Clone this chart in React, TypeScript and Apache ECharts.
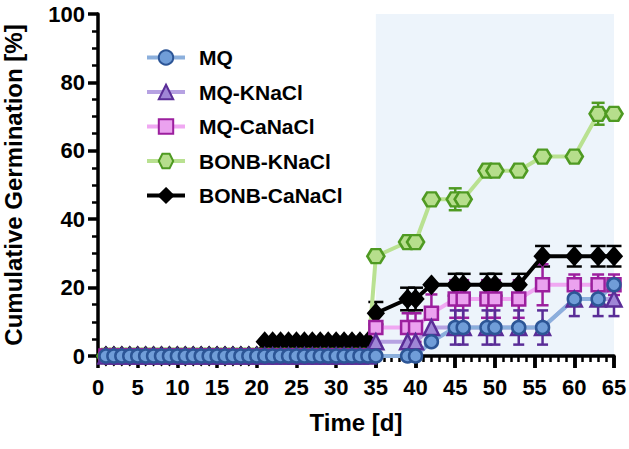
import React, { useEffect, useRef } from "react";
import * as echarts from "echarts";

// ---- data ----
const days = [
  1, 2, 3, 4, 5, 6, 7, 8, 9, 10, 11, 12, 13, 14, 15, 16, 17, 18, 19, 20,
  21, 22, 23, 24, 25, 26, 27, 28, 29, 30, 31, 32, 33, 34, 35,
  39, 40, 42, 45, 46, 49, 50, 53, 56, 60, 63, 65,
];

const valMQ = [
  0, 0, 0, 0, 0, 0, 0, 0, 0, 0, 0, 0, 0, 0, 0, 0, 0, 0, 0, 0,
  0, 0, 0, 0, 0, 0, 0, 0, 0, 0, 0, 0, 0, 0, 0,
  0, 0, 4.17, 8.33, 8.33, 8.33, 8.33, 8.33, 8.33, 16.67, 16.67, 20.83,
];
const valMQK = [
  0, 0, 0, 0, 0, 0, 0, 0, 0, 0, 0, 0, 0, 0, 0, 0, 0, 0, 0, 0,
  0, 0, 0, 0, 0, 0, 0, 0, 0, 0, 0, 0, 0, 0, 4.17,
  4.17, 4.17, 8.33, 8.33, 8.33, 8.33, 8.33, 8.33, 8.33, 16.67, 16.67, 16.67,
];
const valMQCa = [
  0, 0, 0, 0, 0, 0, 0, 0, 0, 0, 0, 0, 0, 0, 0, 0, 0, 0, 0, 0,
  0, 0, 0, 0, 0, 0, 0, 0, 0, 0, 0, 0, 0, 0, 8.33,
  8.33, 8.33, 12.5, 16.67, 16.67, 16.67, 16.67, 16.67, 20.83, 20.83, 20.83, 20.83,
];
const valBONBK = [
  0, 0, 0, 0, 0, 0, 0, 0, 0, 0, 0, 0, 0, 0, 0, 0, 0, 0, 0, 0,
  0, 0, 0, 0, 0, 0, 0, 0, 0, 0, 0, 0, 0, 0, 29.17,
  33.33, 33.33, 45.83, 45.83, 45.83, 54.17, 54.17, 54.17, 58.33, 58.33, 70.83, 70.83,
];
const valBONBCa = [
  0, 0, 0, 0, 0, 0, 0, 0, 0, 0, 0, 0, 0, 0, 0, 0, 0, 0, 0, 0,
  4.17, 4.17, 4.17, 4.17, 4.17, 4.17, 4.17, 4.17, 4.17, 4.17, 4.17, 4.17, 4.17, 4.17, 12.5,
  16.67, 16.67, 20.83, 20.83, 20.83, 20.83, 20.83, 20.83, 29.17, 29.17, 29.17, 29.17,
];

// error bars (SEM) for the later time points
const lateDays = [35, 39, 40, 42, 45, 46, 49, 50, 53, 56, 60, 63, 65];
const errMQ = [0, 0, 0, 0, 0, 0, 0, 0, 0, 0, 0, 0, 0];
const errMQK = [0, 0, 0, 4, 5, 5, 5, 5, 5, 5, 5, 5, 5];
const errMQCa = [0, 4.17, 4.17, 5.5, 5.5, 5.5, 5.5, 5.5, 5.5, 6, 3, 3, 3];
const errBONBK = [0, 0, 0, 0, 3.2, 0, 0, 0, 0, 0, 0, 3.2, 0];
const errBONBCa = [3.3, 3.3, 3.3, 0, 3.2, 3.2, 3.2, 3.2, 3.2, 3, 3, 3, 3];

const seriesNames = ["MQ", "MQ-KNaCl", "MQ-CaNaCl", "BONB-KNaCl", "BONB-CaNaCl"];
const xRange = [0, 65];
const yRange = [0, 100];
const xInterval = 5;
const yInterval = 20;
const shadeDays = [35, 65.5];
const minorTickStart = 35;

const FONT = 'Arial, "Liberation Sans", sans-serif';
const HEX = "path://M0,6 L3.5,0 L10.5,0 L14,6 L10.5,12 L3.5,12 Z";

export default function App() {
  const ref = useRef<HTMLDivElement>(null);

  useEffect(() => {
    if (!ref.current) return;
    const chart = echarts.init(ref.current, undefined, { renderer: "svg" });

    const defs = [
      { name: seriesNames[4], vals: valBONBCa, errs: errBONBCa, symbol: "diamond", size: [15, 17], fill: "#000000", border: "#000000", line: "#000000", err: "#000000", cap: 15 },
      { name: seriesNames[3], vals: valBONBK, errs: errBONBK, symbol: HEX, size: [17, 14], fill: "#b6de8c", border: "#4f9a22", line: "#b9e191", err: "#4f9a22", cap: 13 },
      { name: seriesNames[2], vals: valMQCa, errs: errMQCa, symbol: "rect", size: 13, fill: "#eba2ef", border: "#9c1f9e", line: "#f0a8f2", err: "#9c1f9e", cap: 12 },
      { name: seriesNames[1], vals: valMQK, errs: errMQK, symbol: "triangle", size: 15, fill: "#9f86d6", border: "#5a2d97", line: "#b6a2e2", err: "#5a2d97", cap: 11 },
      { name: seriesNames[0], vals: valMQ, errs: errMQ, symbol: "circle", size: 13, fill: "#709dd8", border: "#2c5596", line: "#8bafdc", err: "#2c5596", cap: 11 },
    ];

    const series: any[] = [
      {
        name: "shade",
        type: "line",
        data: [[shadeDays[0], 0]],
        symbol: "none",
        lineStyle: { width: 0 },
        silent: true,
        clip: false,
        z: 0,
        markArea: {
          silent: true,
          itemStyle: { color: "#edf4fb" },
          data: [[{ xAxis: shadeDays[0], yAxis: yRange[0] }, { xAxis: shadeDays[1], yAxis: yRange[1] }]],
        },
      },
    ];

    defs.forEach((d) => {
      const errData = lateDays.map((day, i) => [day, d.vals[days.indexOf(day)], d.errs[i]]);
      series.push({
        name: "err-" + d.name,
        type: "custom",
        xAxisIndex: 0,
        yAxisIndex: 0,
        silent: true,
        encode: { x: 0, y: 1 },
        data: errData,
        renderItem: (params: any, api: any) => {
          const x = api.value(0);
          const v = api.value(1);
          const e = api.value(2);
          if (!e) return null;
          const top = api.coord([x, v + e]);
          const bot = api.coord([x, v - e]);
          const hw = d.cap / 2;
          const st = { stroke: d.err, lineWidth: 2.5 };
          return {
            type: "group",
            children: [
              { type: "line", shape: { x1: top[0], y1: top[1], x2: bot[0], y2: bot[1] }, style: st },
              { type: "line", shape: { x1: top[0] - hw, y1: top[1], x2: top[0] + hw, y2: top[1] }, style: st },
              { type: "line", shape: { x1: bot[0] - hw, y1: bot[1], x2: bot[0] + hw, y2: bot[1] }, style: st },
            ],
          };
        },
      });
      series.push({
        name: d.name,
        type: "line",
        xAxisIndex: 0,
        yAxisIndex: 0,
        data: days.map((day, i) => [day, d.vals[i]]),
        symbol: d.symbol,
        symbolSize: d.size,
        showSymbol: true,
        showAllSymbol: true,
        lineStyle: { color: d.line, width: 4 },
        itemStyle: { color: d.fill, borderColor: d.border, borderWidth: 2.5 },
        clip: false,
      });
    });

    const axisLabelStyle = { color: "#000", fontFamily: FONT, fontWeight: "bold", fontSize: 22 };

    chart.setOption({
      animation: false,
      backgroundColor: "#ffffff",
      textStyle: { fontFamily: FONT },
      grid: [
        { left: 98, right: 15, top: 14, bottom: 93, containLabel: false, outerBoundsMode: "none" },
        { left: 98 + (minorTickStart / xRange[1]) * (614 - 98), right: 15, top: 14, bottom: 93, containLabel: false, outerBoundsMode: "none" },
      ],
      legend: {
        data: seriesNames,
        orient: "vertical",
        left: 140,
        top: 42,
        itemWidth: 38,
        itemHeight: 18,
        itemGap: 13.5,
        selectedMode: false,
        lineStyle: { width: 4 },
        textStyle: { ...axisLabelStyle, fontSize: 21, padding: [0, 0, 0, 9] },
      },
      xAxis: [
        {
          type: "value",
          gridIndex: 0,
          min: xRange[0],
          max: xRange[1],
          interval: xInterval,
          z: 1,
          name: "Time [d]",
          nameLocation: "middle",
          nameGap: 54,
          nameMoveOverlap: false,
          nameTextStyle: { color: "#000", fontFamily: FONT, fontWeight: "bold", fontSize: 24 },
          axisLine: { show: true, onZero: false, lineStyle: { color: "#000", width: 3.5 } },
          axisTick: { show: true, inside: false, length: 12, lineStyle: { color: "#000", width: 3.5 } },
          minorTick: { show: false },
          splitLine: { show: false },
          axisLabel: { ...axisLabelStyle, margin: 20 },
        },
        {
          type: "value",
          gridIndex: 1,
          min: minorTickStart,
          max: xRange[1],
          interval: xInterval,
          z: 1,
          axisLine: { show: false, onZero: false },
          axisTick: { show: true, inside: false, length: 12, lineStyle: { color: "#000", width: 3.5 } },
          minorTick: { show: true, splitNumber: 5, length: 6, lineStyle: { color: "#000", width: 2.5 } },
          splitLine: { show: false },
          axisLabel: { show: false },
        },
      ],
      yAxis: [
        {
          type: "value",
          gridIndex: 0,
          min: yRange[0],
          max: yRange[1],
          interval: yInterval,
          z: 1,
          name: "Cumulative Germination [%]",
          nameLocation: "middle",
          nameGap: 73,
          nameMoveOverlap: false,
          nameTextStyle: { color: "#000", fontFamily: FONT, fontWeight: "bold", fontSize: 24 },
          axisLine: { show: true, onZero: false, lineStyle: { color: "#000", width: 3.5 } },
          axisTick: { show: true, inside: false, length: 10, lineStyle: { color: "#000", width: 3.5 } },
          minorTick: { show: true, splitNumber: 4, length: 6, lineStyle: { color: "#000", width: 2.5 } },
          splitLine: { show: false },
          axisLabel: { ...axisLabelStyle, margin: 13 },
        },
        {
          type: "value",
          gridIndex: 1,
          min: yRange[0],
          max: yRange[1],
          show: false,
        },
      ],
      series,
    });

    return () => chart.dispose();
  }, []);

  return (
    <div
      ref={ref}
      style={{ position: "fixed", left: 0, top: 0, width: 629, height: 449, background: "#fff" }}
    />
  );
}
